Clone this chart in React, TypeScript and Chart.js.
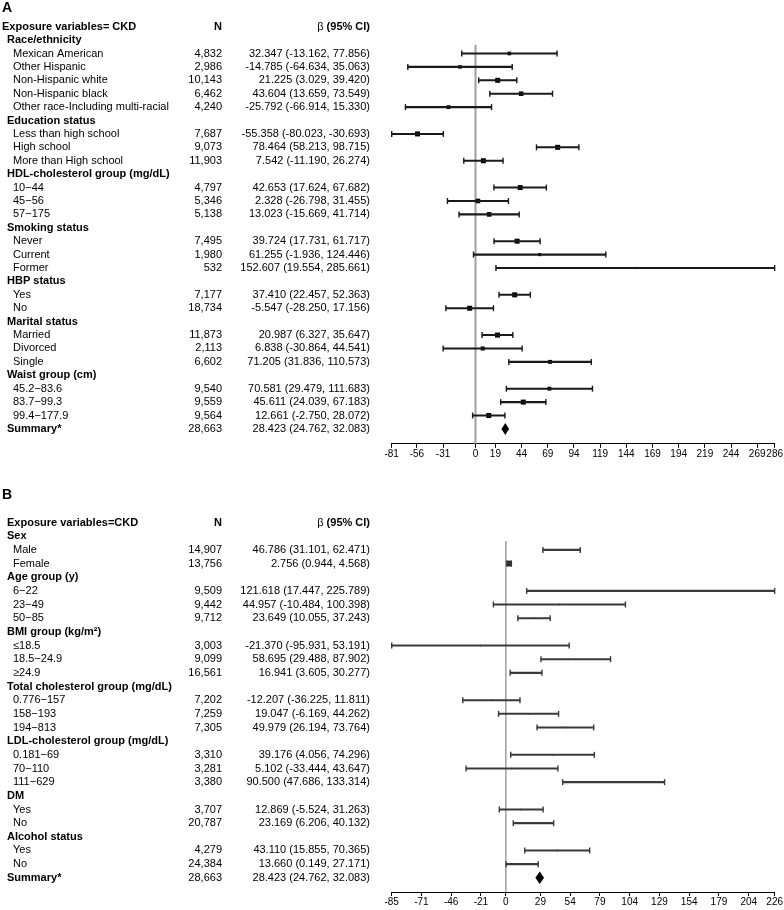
import React, { useEffect, useRef } from 'react';
import { Chart, registerables } from 'chart.js';

Chart.register(...registerables);

const FONT = '"Liberation Sans", Arial, Helvetica, sans-serif';

// ---------------- Panel A data ----------------
const aHeader = 'Exposure variables= CKD';
const aLabels = [
  'Race/ethnicity', 'Mexican American', 'Other Hispanic', 'Non-Hispanic white', 'Non-Hispanic black',
  'Other race-Including multi-racial', 'Education status', 'Less than high school', 'High school',
  'More than High school', 'HDL-cholesterol group (mg/dL)', '10\u221244', '45\u221256', '57\u2212175',
  'Smoking status', 'Never', 'Current', 'Former', 'HBP status', 'Yes', 'No', 'Marital status',
  'Married', 'Divorced', 'Single', 'Waist group (cm)', '45.2\u221283.6', '83.7\u221299.3', '99.4\u2212177.9',
  'Summary*',
];
const aKinds = ['g', 'i', 'i', 'i', 'i', 'i', 'g', 'i', 'i', 'i', 'g', 'i', 'i', 'i', 'g', 'i', 'i', 'i', 'g', 'i', 'i', 'g', 'i', 'i', 'i', 'g', 'i', 'i', 'i', 's'];
const aN = [null, 4832, 2986, 10143, 6462, 4240, null, 7687, 9073, 11903, null, 4797, 5346, 5138, null, 7495, 1980, 532, null, 7177, 18734, null, 11873, 2113, 6602, null, 9540, 9559, 9564, 28663];
const aBeta = [null, 32.347, -14.785, 21.225, 43.604, -25.792, null, -55.358, 78.464, 7.542, null, 42.653, 2.328, 13.023, null, 39.724, 61.255, 152.607, null, 37.41, -5.547, null, 20.987, 6.838, 71.205, null, 70.581, 45.611, 12.661, 28.423];
const aLower = [null, -13.162, -64.634, 3.029, 13.659, -66.914, null, -80.023, 58.213, -11.19, null, 17.624, -26.798, -15.669, null, 17.731, -1.936, 19.554, null, 22.457, -28.25, null, 6.327, -30.864, 31.836, null, 29.479, 24.039, -2.75, 24.762];
const aUpper = [null, 77.856, 35.063, 39.42, 73.549, 15.33, null, -30.693, 98.715, 26.274, null, 67.682, 31.455, 41.714, null, 61.717, 124.446, 285.661, null, 52.363, 17.156, null, 35.647, 44.541, 110.573, null, 111.683, 67.183, 28.072, 32.083];
const aTickLabels = ['-81', '-56', '-31', '0', '19', '44', '69', '94', '119', '144', '169', '194', '219', '244', '269', '286'];

// ---------------- Panel B data ----------------
const bHeader = 'Exposure variables=CKD';
const bLabels = [
  'Sex', 'Male', 'Female', 'Age group (y)', '6\u221222', '23\u221249', '50\u221285', 'BMI group (kg/m\u00B2)',
  '\u226418.5', '18.5\u221224.9', '\u226524.9', 'Total cholesterol group (mg/dL)', '0.776\u2212157', '158\u2212193',
  '194\u2212813', 'LDL-cholesterol group (mg/dL)', '0.181\u221269', '70\u2212110', '111\u2212629', 'DM', 'Yes', 'No',
  'Alcohol status', 'Yes', 'No', 'Summary*',
];
const bKinds = ['g', 'i', 'i', 'g', 'i', 'i', 'i', 'g', 'i', 'i', 'i', 'g', 'i', 'i', 'i', 'g', 'i', 'i', 'i', 'g', 'i', 'i', 'g', 'i', 'i', 's'];
const bN = [null, 14907, 13756, null, 9509, 9442, 9712, null, 3003, 9099, 16561, null, 7202, 7259, 7305, null, 3310, 3281, 3380, null, 3707, 20787, null, 4279, 24384, 28663];
const bBeta = [null, 46.786, 2.756, null, 121.618, 44.957, 23.649, null, -21.37, 58.695, 16.941, null, -12.207, 19.047, 49.979, null, 39.176, 5.102, 90.5, null, 12.869, 23.169, null, 43.11, 13.66, 28.423];
const bLower = [null, 31.101, 0.944, null, 17.447, -10.484, 10.055, null, -95.931, 29.488, 3.605, null, -36.225, -6.169, 26.194, null, 4.056, -33.444, 47.686, null, -5.524, 6.206, null, 15.855, 0.149, 24.762];
const bUpper = [null, 62.471, 4.568, null, 225.789, 100.398, 37.243, null, 53.191, 87.902, 30.277, null, 11.811, 44.262, 73.764, null, 74.296, 43.647, 133.314, null, 31.263, 40.132, null, 70.365, 27.171, 32.083];
const bTickLabels = ['-85', '-71', '-46', '-21', '0', '29', '54', '79', '104', '129', '154', '179', '204', '226'];

type Num = number | null;

interface PanelDef {
  letter: string;
  header: string;
  headerX: number;
  labels: string[];
  kinds: string[];
  n: Num[];
  beta: Num[];
  lo: Num[];
  hi: Num[];
  tickLabels: string[];
  top: number;
  height: number;
  padTop: number;
  padBottom: number;
  yMax: number;
  letterY: number;
  lineColor: string;
  markColor: string;
  lineW: number;
  zeroColor: string;
  zeroW: number;
  side: (w: number) => number;
  diamondH: number;
}

const clamp = (v: number, a: number, b: number) => Math.max(a, Math.min(b, v));

const panels: PanelDef[] = [
  {
    letter: 'A', header: aHeader, headerX: 2, labels: aLabels, kinds: aKinds, n: aN, beta: aBeta, lo: aLower, hi: aUpper,
    tickLabels: aTickLabels, top: 0, height: 470, padTop: 13.26, padBottom: 10.2, yMax: 31.11, letterY: 8,
    lineColor: '#1a1a1a', markColor: '#000', lineW: 1.4, zeroColor: '#a0a0a0', zeroW: 2,
    side: (w) => clamp(35 / Math.sqrt(w), 2, 5), diamondH: 6,
  },
  {
    letter: 'B', header: bHeader, headerX: 7, labels: bLabels, kinds: bKinds, n: bN, beta: bBeta, lo: bLower, hi: bUpper,
    tickLabels: bTickLabels, top: 465, height: 445, padTop: 43.9, padBottom: 2, yMax: 27.04, letterY: 30,
    lineColor: '#3a3a3a', markColor: '#222', lineW: 1.4, zeroColor: '#707070', zeroW: 1,
    side: (w) => clamp(21 / w, 1.5, 6), diamondH: 6.3,
  },
];

const N_RIGHT = 222;
const BETA_RIGHT = 370;
const fmt = (v: number) => v.toFixed(3);

function buildConfig(d: PanelDef): any {
  const items = d.kinds.map((k, i) => (k === 'i' ? i : -1)).filter((i) => i >= 0);
  const sums = d.kinds.map((k, i) => (k === 's' ? i : -1)).filter((i) => i >= 0);
  const los = d.lo.filter((v) => v !== null) as number[];
  const his = d.hi.filter((v) => v !== null) as number[];
  const xMin = Math.min(...los);
  const xMax = Math.max(...his);

  const textPlugin = {
    id: 'forestText' + d.letter,
    beforeDatasetsDraw(chart: any) {
      const ctx = chart.ctx;
      const xs = chart.scales.x;
      const ys = chart.scales.y;
      const x0 = xs.getPixelForValue(0);
      ctx.save();
      ctx.strokeStyle = d.zeroColor;
      ctx.lineWidth = d.zeroW;
      ctx.beginPath();
      ctx.moveTo(x0, ys.getPixelForValue(1.35));
      ctx.lineTo(x0, chart.chartArea.bottom);
      ctx.stroke();
      ctx.restore();
    },
    afterDatasetsDraw(chart: any) {
      const ctx = chart.ctx;
      const xs = chart.scales.x;
      const ys = chart.scales.y;
      ctx.save();
      ctx.fillStyle = '#000';
      sums.forEach((i) => {
        const yc = ys.getPixelForValue(i + 1);
        const xl = xs.getPixelForValue(d.lo[i] as number);
        const xr = xs.getPixelForValue(d.hi[i] as number);
        const xc = xs.getPixelForValue(d.beta[i] as number);
        ctx.beginPath();
        ctx.moveTo(xl, yc);
        ctx.lineTo(xc, yc - d.diamondH);
        ctx.lineTo(xr, yc);
        ctx.lineTo(xc, yc + d.diamondH);
        ctx.closePath();
        ctx.fill();
      });
      ctx.restore();
    },
    afterDraw(chart: any) {
      const ctx = chart.ctx;
      const ys = chart.scales.y;
      const bold = `bold 11px ${FONT}`;
      const reg = `11px ${FONT}`;
      ctx.save();
      ctx.fillStyle = '#000';
      ctx.textBaseline = 'middle';
      ctx.textAlign = 'left';
      ctx.font = `bold 14px ${FONT}`;
      ctx.fillText(d.letter, 2, d.letterY);

      const hy = ys.getPixelForValue(0);
      ctx.font = bold;
      ctx.fillText(d.header, d.headerX, hy);
      ctx.textAlign = 'right';
      ctx.fillText('N', N_RIGHT, hy);
      const boldPart = ' (95% CI)';
      const wb = ctx.measureText(boldPart).width;
      ctx.fillText(boldPart, BETA_RIGHT, hy);
      ctx.font = reg;
      ctx.fillText('\u03B2', BETA_RIGHT - wb, hy);

      d.labels.forEach((lab, i) => {
        const y = ys.getPixelForValue(i + 1);
        const kind = d.kinds[i];
        ctx.textAlign = 'left';
        ctx.font = kind === 'i' ? reg : bold;
        ctx.fillText(lab, kind === 'i' ? 13 : 7, y);
        if (kind !== 'g') {
          ctx.font = reg;
          ctx.textAlign = 'right';
          ctx.fillText((d.n[i] as number).toLocaleString('en-US'), N_RIGHT, y);
          const b = d.beta[i] as number;
          const l = d.lo[i] as number;
          const h = d.hi[i] as number;
          ctx.fillText(`${fmt(b)} (${fmt(l)}, ${fmt(h)})`, BETA_RIGHT, y);
        }
      });
      ctx.restore();
    },
  };

  return {
    type: 'scatter',
    data: {
      datasets: [
        {
          type: 'bar',
          indexAxis: 'y',
          data: items.map((i) => ({ x: [d.lo[i], d.hi[i]], y: i + 1 })),
          backgroundColor: d.lineColor,
          barThickness: d.lineW,
          borderWidth: 0,
          clip: false,
        },
        {
          type: 'scatter',
          data: items.flatMap((i) => [
            { x: d.lo[i], y: i + 1 },
            { x: d.hi[i], y: i + 1 },
          ]),
          pointStyle: 'line',
          pointRotation: 90,
          pointRadius: 3,
          pointBorderColor: d.lineColor,
          pointBorderWidth: d.lineW,
          clip: false,
        },
        {
          type: 'scatter',
          data: items.map((i) => ({ x: d.beta[i], y: i + 1, w: (d.hi[i] as number) - (d.lo[i] as number) })),
          pointStyle: 'rect',
          pointRadius: (c: any) => (c.raw ? d.side(c.raw.w) / Math.SQRT2 : 2),
          pointBackgroundColor: d.markColor,
          pointBorderWidth: 0,
          clip: false,
        },
      ],
    },
    options: {
      responsive: false,
      maintainAspectRatio: false,
      animation: false,
      events: [],
      layout: { padding: { left: 391.7, right: 9, top: d.padTop, bottom: d.padBottom } },
      plugins: { legend: { display: false }, tooltip: { enabled: false } },
      scales: {
        x: {
          type: 'linear',
          min: xMin,
          max: xMax,
          offset: false,
          beginAtZero: false,
          afterBuildTicks: (s: any) => {
            const last = d.tickLabels.length - 1;
            s.ticks = d.tickLabels.map((l, i) => ({ value: i === 0 ? xMin : i === last ? xMax : Number(l) }));
          },
          ticks: {
            callback: (_v: any, i: number) => d.tickLabels[i],
            autoSkip: false,
            maxRotation: 0,
            minRotation: 0,
            padding: 1,
            color: '#000',
            font: { family: FONT, size: 10, lineHeight: 1 },
          },
          grid: { offset: false, drawOnChartArea: false, drawTicks: true, tickLength: 4, color: '#000', lineWidth: 1 },
          border: { display: true, color: '#000', width: 1 },
        },
        y: {
          type: 'linear',
          reverse: true,
          min: -1,
          max: d.yMax,
          offset: false,
          grace: 0,
          grid: { offset: false },
          display: false,
        },
      },
    },
    plugins: [textPlugin],
  };
}

function ForestPanel({ def }: { def: PanelDef }) {
  const ref = useRef<HTMLCanvasElement>(null);
  useEffect(() => {
    const canvas = ref.current as HTMLCanvasElement;
    const chart = new Chart(canvas, buildConfig(def));
    return () => chart.destroy();
  }, [def]);
  return (
    <canvas
      ref={ref}
      width={784}
      height={def.height}
      style={{ position: 'absolute', left: 0, top: def.top, width: 784, height: def.height, display: 'block' }}
    />
  );
}

export default function App() {
  return (
    <div style={{ position: 'fixed', left: 0, top: 0, width: 784, height: 910, background: '#fff', overflow: 'hidden' }}>
      {panels.map((p) => (
        <ForestPanel key={p.letter} def={p} />
      ))}
    </div>
  );
}
